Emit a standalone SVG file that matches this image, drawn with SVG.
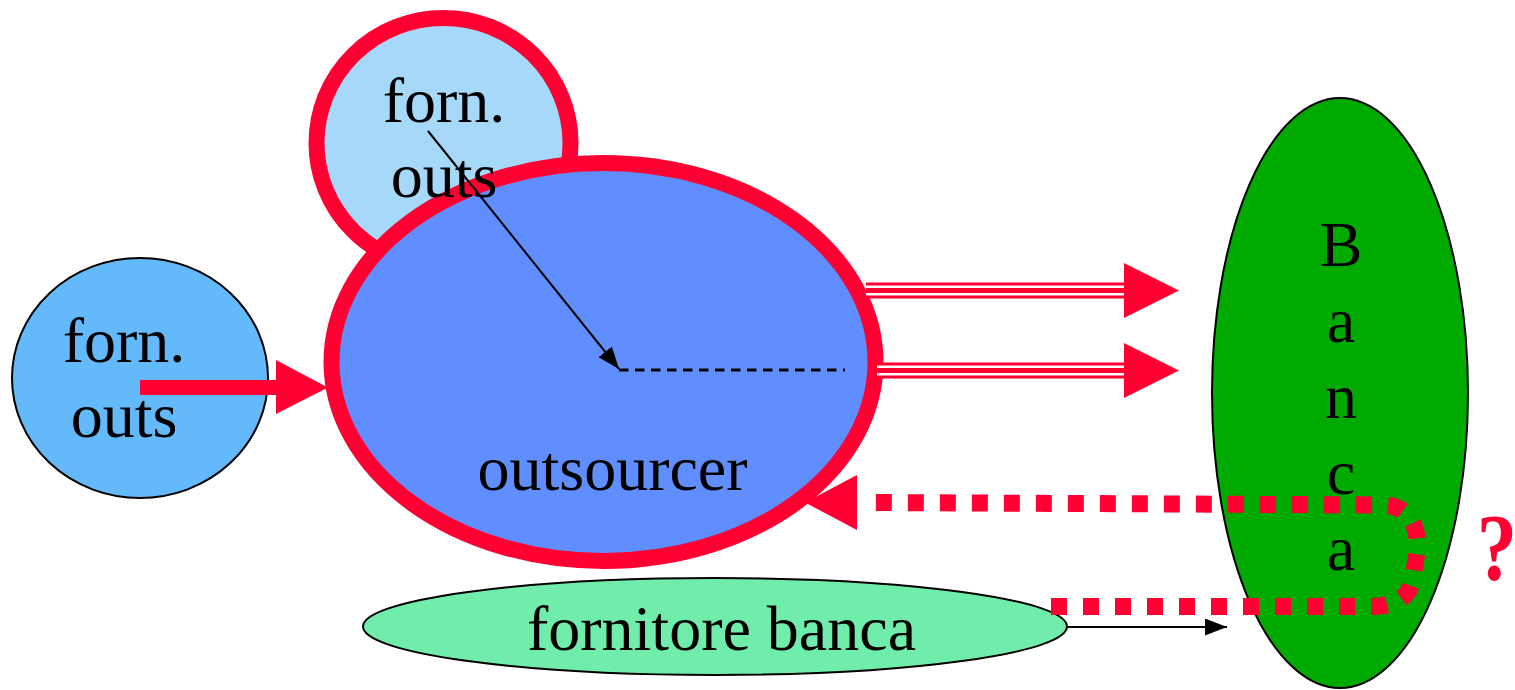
<svg xmlns="http://www.w3.org/2000/svg" width="1515" height="690" viewBox="0 0 1515 690">
  <style>
    .lbl { font-family: "Liberation Serif", "Times New Roman", serif; font-size: 64px; fill: #000; text-anchor: middle; }
    .ring { stroke: #FF0033; stroke-width: 16; }
    .thin { stroke: #000; stroke-width: 2; }
    .red { fill: #FF0033; }
  </style>
  <defs>
    <marker id="blackHead" viewBox="0 0 22 17" refX="22" refY="8.5" markerWidth="22" markerHeight="17" markerUnits="userSpaceOnUse" orient="auto">
      <path d="M0,0 L22,8.5 L0,17 Z" fill="#000"/>
    </marker>
  </defs>
  <rect width="1515" height="690" fill="#fff"/>

  <g id="node-forn-outs-top">
    <ellipse class="ring" cx="443.5" cy="143" rx="127" ry="125" fill="#A6D8FA"/>
  </g>

  <g id="node-outsourcer">
    <ellipse class="ring" cx="603.5" cy="362" rx="272" ry="199" fill="#608EFF"/>
    <text class="lbl" x="612.5" y="490">outsourcer</text>
  </g>

  <g id="node-forn-outs-left">
    <ellipse class="thin" cx="140" cy="378" rx="128" ry="120" fill="#63B9F9"/>
    <text class="lbl" x="124" y="362">forn.</text>
    <text class="lbl" x="124" y="437">outs</text>
  </g>

  <g id="node-fornitore-banca">
    <ellipse class="thin" cx="715" cy="626.5" rx="352" ry="48.5" fill="#70EDAB"/>
    <text class="lbl" x="721.5" y="650">fornitore banca</text>
  </g>

  <g id="node-banca">
    <ellipse class="thin" cx="1340" cy="393" rx="128" ry="295" fill="#00AA00"/>
    <text class="lbl" x="1341" y="266">B</text>
    <text class="lbl" x="1341" y="342">a</text>
    <text class="lbl" x="1341" y="418">n</text>
    <text class="lbl" x="1341" y="494">c</text>
    <text class="lbl" x="1341" y="570">a</text>
  </g>

  <g id="node-forn-outs-top-label">
    <text class="lbl" x="444" y="122">forn.</text>
    <text class="lbl" x="444" y="197">outs</text>
  </g>

  <g id="connectors">
    <!-- left forn. outs to outsourcer -->
    <line x1="140" y1="387.5" x2="277" y2="387.5" stroke="#FF0033" stroke-width="15"/>
    <polygon class="red" points="276,360 276,414 328,387.5"/>

    <!-- triple-line arrows to Banca -->
    <g id="triple-upper">
      <line x1="866" y1="290.5" x2="1125" y2="290.5" stroke="#FF0033" stroke-width="16"/>
      <line x1="866" y1="290.5" x2="1125" y2="290.5" stroke="#fff" stroke-width="10"/>
      <line x1="866" y1="290.5" x2="1125" y2="290.5" stroke="#FF0033" stroke-width="5"/>
      <polygon class="red" points="1124,263 1124,318 1179,290.5"/>
    </g>
    <g id="triple-lower">
      <line x1="877" y1="370.5" x2="1125" y2="370.5" stroke="#FF0033" stroke-width="16"/>
      <line x1="877" y1="370.5" x2="1125" y2="370.5" stroke="#fff" stroke-width="10"/>
      <line x1="877" y1="370.5" x2="1125" y2="370.5" stroke="#FF0033" stroke-width="5"/>
      <polygon class="red" points="1124,343 1124,398 1179,370.5"/>
    </g>

    <!-- dotted return path -->
    <path d="M1051,606.5 H1372 C1398,606 1410,596 1413,578 L1417,552 C1420,527 1408,506 1385,505 L872,502.5" fill="none" stroke="#FF0033" stroke-width="17" stroke-dasharray="16 16"/>
    <polygon class="red" points="857,475 857,530 805,502.5"/>

    <!-- fornitore banca to Banca -->
    <line x1="1067" y1="627" x2="1227" y2="627" stroke="#000" stroke-width="2" marker-end="url(#blackHead)"/>

    <!-- top forn. outs to outsourcer centre -->
    <line x1="428" y1="131" x2="619" y2="369" stroke="#000" stroke-width="2" marker-end="url(#blackHead)"/>
    <line x1="619" y1="370" x2="845" y2="370" stroke="#000" stroke-width="3" stroke-dasharray="9.5 6.5"/>
  </g>

  <text transform="translate(1497,580) scale(0.84,1)" x="0" y="0" font-family="Liberation Serif, serif" font-size="96" font-weight="bold" fill="#FF0033" text-anchor="middle">?</text>
</svg>
